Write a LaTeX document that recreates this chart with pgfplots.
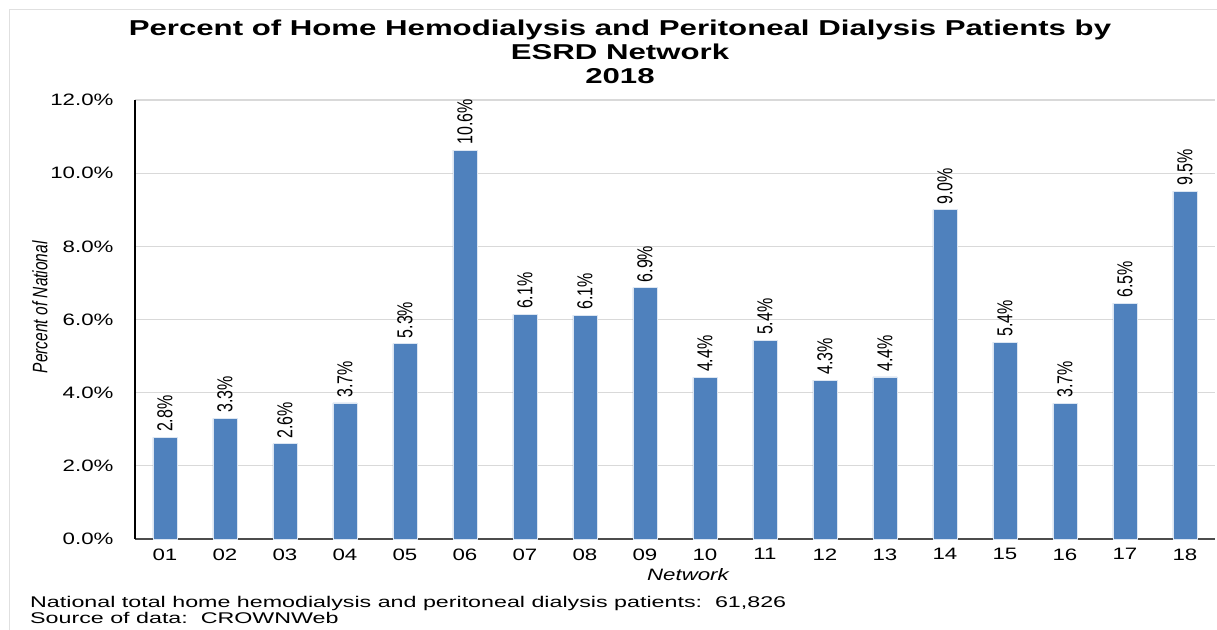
\documentclass[border=0pt]{standalone}
\usepackage{fontspec}
\setmainfont{Liberation Sans}
\newfontfamily\tickfont[FakeStretch=1.35]{Liberation Sans}
\newfontfamily\titlefont[FakeStretch=1.45]{Liberation Sans}
\newfontfamily\notefont[FakeStretch=1.5]{Liberation Sans}
\usepackage{graphicx}
\usepackage{pgfplots}
\pgfplotsset{compat=1.18}
\definecolor{barblue}{HTML}{4F81BD}
\definecolor{gridgray}{HTML}{D9D9D9}

\begin{document}
\begin{tikzpicture}[x=1pt,y=1pt]
\useasboundingbox (-135,-90) rectangle (1082,539);
\draw[black!12, line width=1pt] (-125,-95) -- (-125,529) -- (1090,529);
\begin{axis}[
  at={(0,0)}, anchor=south west,
  scale only axis, width=1080pt, height=439pt,
  ybar, bar width=24pt,
  xmin=0.5, xmax=18.5, ymin=0, ymax=12,
  xtick={1,...,18},
  xticklabels={01,02,03,04,05,06,07,08,09,10,11,12,13,14,15,16,17,18},
  ytick={0,2,...,12},
  /pgf/number format/assume math mode=true,
  yticklabel={\pgfmathprintnumber[fixed,fixed zerofill,precision=1]{\tick}\%},
  ymajorgrids, grid style={gridgray, line width=1.2pt},
  axis x line*=bottom, axis y line*=left,
  x axis line style={black!70, line width=1.6pt, -},
  y axis line style={black, line width=1.4pt, -},
  major tick length=0pt,
  tick label style={font=\tickfont\fontsize{16.5}{20}\selectfont},
  xticklabel style={yshift=-6pt},
  yticklabel style={xshift=-18pt},
  xlabel={Network},
  xlabel style={at={(axis description cs:0.512,0)}, anchor=center, yshift=-36pt,
    font=\itshape\tickfont\fontsize{16.5}{20}\selectfont},
  ylabel={\scalebox{1}[1.35]{Percent of National}},
  ylabel style={at={(axis description cs:-0.088,0.528)}, anchor=center,
    font=\itshape\fontsize{15.5}{18}\selectfont},
  nodes near coords={\scalebox{1}[1.35]{\pgfmathprintnumber[fixed,fixed zerofill,precision=1]{\pgfplotspointmeta}\%}},
  every node near coord/.append style={rotate=90, anchor=west, inner xsep=5pt,
    font=\fontsize{16}{18}\selectfont, black},
]
\addplot[fill=barblue, draw=white!80!barblue, line width=0.8pt] coordinates {
  (1,2.78) (2,3.30) (3,2.60) (4,3.72) (5,5.34) (6,10.63) (7,6.14) (8,6.12) (9,6.87)
  (10,4.42) (11,5.43) (12,4.34) (13,4.43) (14,9.00) (15,5.38) (16,3.71) (17,6.45) (18,9.51)};
\end{axis}
\node[align=center, font=\titlefont\bfseries\fontsize{21.5}{24}\selectfont] at (485,487)
  {Percent of Home Hemodialysis and Peritoneal Dialysis Patients by\\ESRD Network\\2018};
\node[align=left, anchor=west, inner sep=0pt, font=\notefont\fontsize{15.5}{16}\selectfont] at (-105,-71)
  {National total home hemodialysis and peritoneal dialysis patients:\ \ 61,826\\Source of data:\ \ CROWNWeb};
\end{tikzpicture}
\end{document}
